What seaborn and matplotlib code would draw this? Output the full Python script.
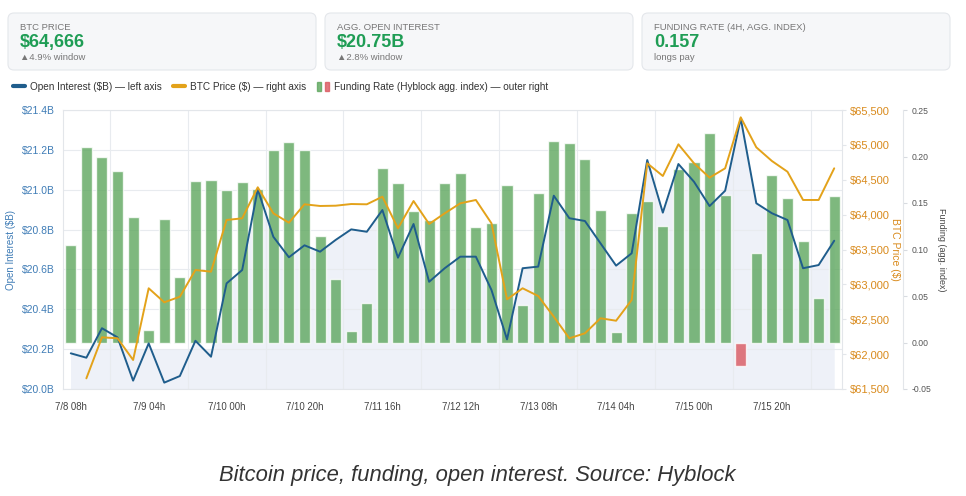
import numpy as np
import pandas as pd
import seaborn as sns
import matplotlib.pyplot as plt
from matplotlib.patches import FancyBboxPatch, Patch
from matplotlib.lines import Line2D
from matplotlib.legend_handler import HandlerTuple
from matplotlib.ticker import FuncFormatter

# 4h steps, 7/8 08h -> 7/16 08h
x_labels = ["7/8 08h", "7/9 04h", "7/10 00h", "7/10 20h", "7/11 16h",
            "7/12 12h", "7/13 08h", "7/14 04h", "7/15 00h", "7/15 20h"]

open_interest = [20.179, 20.157, 20.305, 20.259, 20.042, 20.229, 20.032, 20.065, 20.242, 20.162,
                 20.530, 20.597, 21.002, 20.764, 20.661, 20.721, 20.689, 20.748, 20.801, 20.789,
                 20.898, 20.659, 20.828, 20.538, 20.606, 20.664, 20.664, 20.497, 20.249, 20.606,
                 20.614, 20.970, 20.857, 20.843, 20.731, 20.619, 20.681, 21.149, 20.885, 21.129,
                 21.040, 20.918, 20.995, 21.358, 20.932, 20.882, 20.848, 20.606, 20.622, 20.744]

btc_price = [np.nan, 61653, 62241, 62227, 61916, 62944, 62743, 62823, 63206, 63182,
             63923, 63947, 64392, 64019, 63884, 64148, 64124, 64128, 64152, 64148,
             64257, 63804, 64195, 63866, 64019, 64162, 64210, 63876, 62786, 62944,
             62833, 62537, 62227, 62299, 62514, 62479, 62776, 64736, 64554, 65008,
             64736, 64530, 64664, 65395, 64965, 64769, 64615, 64210, 64210, 64664]

funding = [0.105, 0.210, 0.200, 0.184, 0.135, 0.013, 0.133, 0.070, 0.174, 0.175,
           0.164, 0.173, 0.165, 0.207, 0.216, 0.207, 0.114, 0.068, 0.012, 0.043,
           0.188, 0.172, 0.141, 0.132, 0.171, 0.182, 0.124, 0.128, 0.169, 0.040,
           0.161, 0.217, 0.214, 0.197, 0.143, 0.011, 0.139, 0.152, 0.125, 0.187,
           0.194, 0.225, 0.159, -0.025, 0.096, 0.180, 0.155, 0.109, 0.048, 0.157]

cards = [("BTC PRICE", "$64,666", "\u25b24.9% window"),
         ("AGG. OPEN INTEREST", "$20.75B", "\u25b22.8% window"),
         ("FUNDING RATE (4H, AGG. INDEX)", "0.157", "longs pay")]

BLUE = "#1f5d8c"
BLUE_TXT = "#3f7cb6"
ORANGE = "#e3a21a"
ORANGE_TXT = "#d98a1c"
GREEN = "#5aa55a"
RED = "#d9545c"
FILL = "#eef1f8"
GRID = "#e8ebef"

t = np.arange(len(open_interest))
df = pd.DataFrame({"t": t, "funding": funding})
df["sign"] = np.where(df["funding"] >= 0, "pos", "neg")

sns.set_style("white")
plt.rcParams["font.family"] = ["Liberation Sans", "DejaVu Sans"]

W, H = 966, 496
fig = plt.figure(figsize=(W / 100, H / 100), dpi=100)


def fx(px):
    return px / W


def fy(py):
    return 1 - py / H


L, R, T, B = 63, 842, 110, 389
ax = fig.add_axes([fx(L), fy(B), (R - L) / W, (B - T) / H])
axf = ax.twinx()
axo = ax.twinx()
axp = ax.twinx()
ax.set_zorder(1)
axf.set_zorder(2)
axo.set_zorder(3)
axp.set_zorder(4)

# background fill under open interest
ax.fill_between(t, open_interest, 20.0, color=FILL, lw=0, zorder=0.2)
ax.fill_between(t, 20.2, 20.0, color=FILL, lw=0, zorder=0.2)

# funding bars
sns.barplot(data=df, x="t", y="funding", hue="sign", dodge=False,
            palette={"pos": GREEN, "neg": RED}, saturation=1, alpha=0.78,
            width=0.71, errorbar=None, legend=False, ax=axf)

# lines
sns.lineplot(x=t, y=open_interest, color=BLUE, linewidth=1.4, errorbar=None, ax=axo)
sns.lineplot(x=t, y=btc_price, color=ORANGE, linewidth=1.4, errorbar=None, ax=axp)

# left axis (open interest)
ax.set_ylim(20.0, 21.4)
ax.set_yticks(np.arange(20.0, 21.41, 0.2))
ax.yaxis.set_major_formatter(FuncFormatter(lambda v, p: f"${v:.1f}B"))
ax.tick_params(axis="y", length=0, labelsize=7.5, labelcolor=BLUE_TXT, pad=6)
ax.set_ylabel("Open Interest ($B)", fontsize=7, color=BLUE_TXT)
ax.yaxis.set_label_coords((16 - L) / (R - L), 0.5)
ax.yaxis.grid(True, color=GRID, lw=0.8)
ax.set_axisbelow(True)
for s in ax.spines.values():
    s.set_color("#e3e6ea")
    s.set_linewidth(0.8)

axo.set_ylim(20.0, 21.4)
axo.yaxis.set_visible(False)

# x axis
ax.set_xlim(-0.5, len(t) - 0.5)
ax.set_xticks(np.arange(0, len(t), 5))
ax.set_xticklabels(x_labels)
ax.set_xticks(np.arange(2.5, len(t), 5), minor=True)
ax.xaxis.grid(True, which="minor", color=GRID, lw=0.8)
ax.xaxis.grid(False, which="major")
ax.tick_params(axis="x", which="major", length=0, labelsize=6.9, labelcolor="#444", pad=9)
ax.tick_params(axis="x", which="minor", length=5, color=GRID)
ax.set_xlabel("")

# price axis
axp.set_ylim(61500, 65500)
axp.set_yticks(np.arange(61500, 65501, 500))
axp.yaxis.set_major_formatter(FuncFormatter(lambda v, p: f"${v:,.0f}"))
axp.tick_params(axis="y", length=3, color="#e3e6ea", labelsize=8, labelcolor=ORANGE_TXT, pad=3)
axp.set_ylabel("BTC Price ($)", fontsize=7.5, color=ORANGE_TXT, rotation=270, va="center")
axp.yaxis.set_label_coords((895 - L) / (R - L), 0.5)

# funding axis (outer right)
axf.set_ylim(-0.05, 0.25)
axf.set_yticks(np.arange(-0.05, 0.251, 0.05))
axf.yaxis.set_major_formatter(FuncFormatter(lambda v, p: f"{v:.2f}"))
axf.spines["right"].set_position(("axes", (903 - L) / (R - L)))
axf.tick_params(axis="y", length=3, color="#d8dbe0", labelsize=6.2, labelcolor="#555", pad=3)
axf.set_ylabel("Funding (agg. index)", fontsize=6.5, color="#444", rotation=270, va="center")
axf.yaxis.set_label_coords((942 - L) / (R - L), 0.5)
axf.set_xlabel("")

for a in (axf, axo, axp):
    for name, s in a.spines.items():
        s.set_visible(False)
axf.spines["right"].set_visible(True)
axf.spines["right"].set_color("#e3e6ea")
axf.spines["right"].set_linewidth(0.8)

# stat cards
card_x = [8, 325, 642]
for (title, value, sub), x0 in zip(cards, card_x):
    box = FancyBboxPatch((x0 / 100, (H - 70) / 100), 3.08, 0.57,
                         boxstyle="round,pad=0,rounding_size=0.06",
                         transform=fig.dpi_scale_trans, fc="#f6f7f9", ec="#e4e7eb", lw=0.8)
    fig.add_artist(box)
    fig.text(fx(x0 + 12), fy(27), title, fontsize=6.8, color="#777", va="center")
    fig.text(fx(x0 + 12), fy(42.5), value, fontsize=13, fontweight="bold", color="#1f9d55", va="center")
    fig.text(fx(x0 + 12), fy(57.5), sub, fontsize=6.8, color="#777", va="center")

# legend
handles = [Line2D([], [], color=BLUE, lw=3, solid_capstyle="round"),
           Line2D([], [], color=ORANGE, lw=3, solid_capstyle="round"),
           (Patch(color=GREEN, alpha=0.78), Patch(color=RED, alpha=0.78))]
labels = ["Open Interest ($B) \u2014 left axis", "BTC Price ($) \u2014 right axis",
          "Funding Rate (Hyblock agg. index) \u2014 outer right"]
fig.legend(handles, labels, handler_map={tuple: HandlerTuple(ndivide=None, pad=0.4)},
           loc="center left", bbox_to_anchor=(fx(4), fy(87)), ncol=3, frameon=False,
           fontsize=7.2, handlelength=1.2, handleheight=0.9, handletextpad=0.5,
           columnspacing=1.1, labelcolor="#333")

fig.text(fx(477), fy(476), "Bitcoin price, funding, open interest. Source: Hyblock",
         ha="center", va="center", fontsize=15.8, style="italic", color="#333")

fig.savefig("out.png", dpi=100)
